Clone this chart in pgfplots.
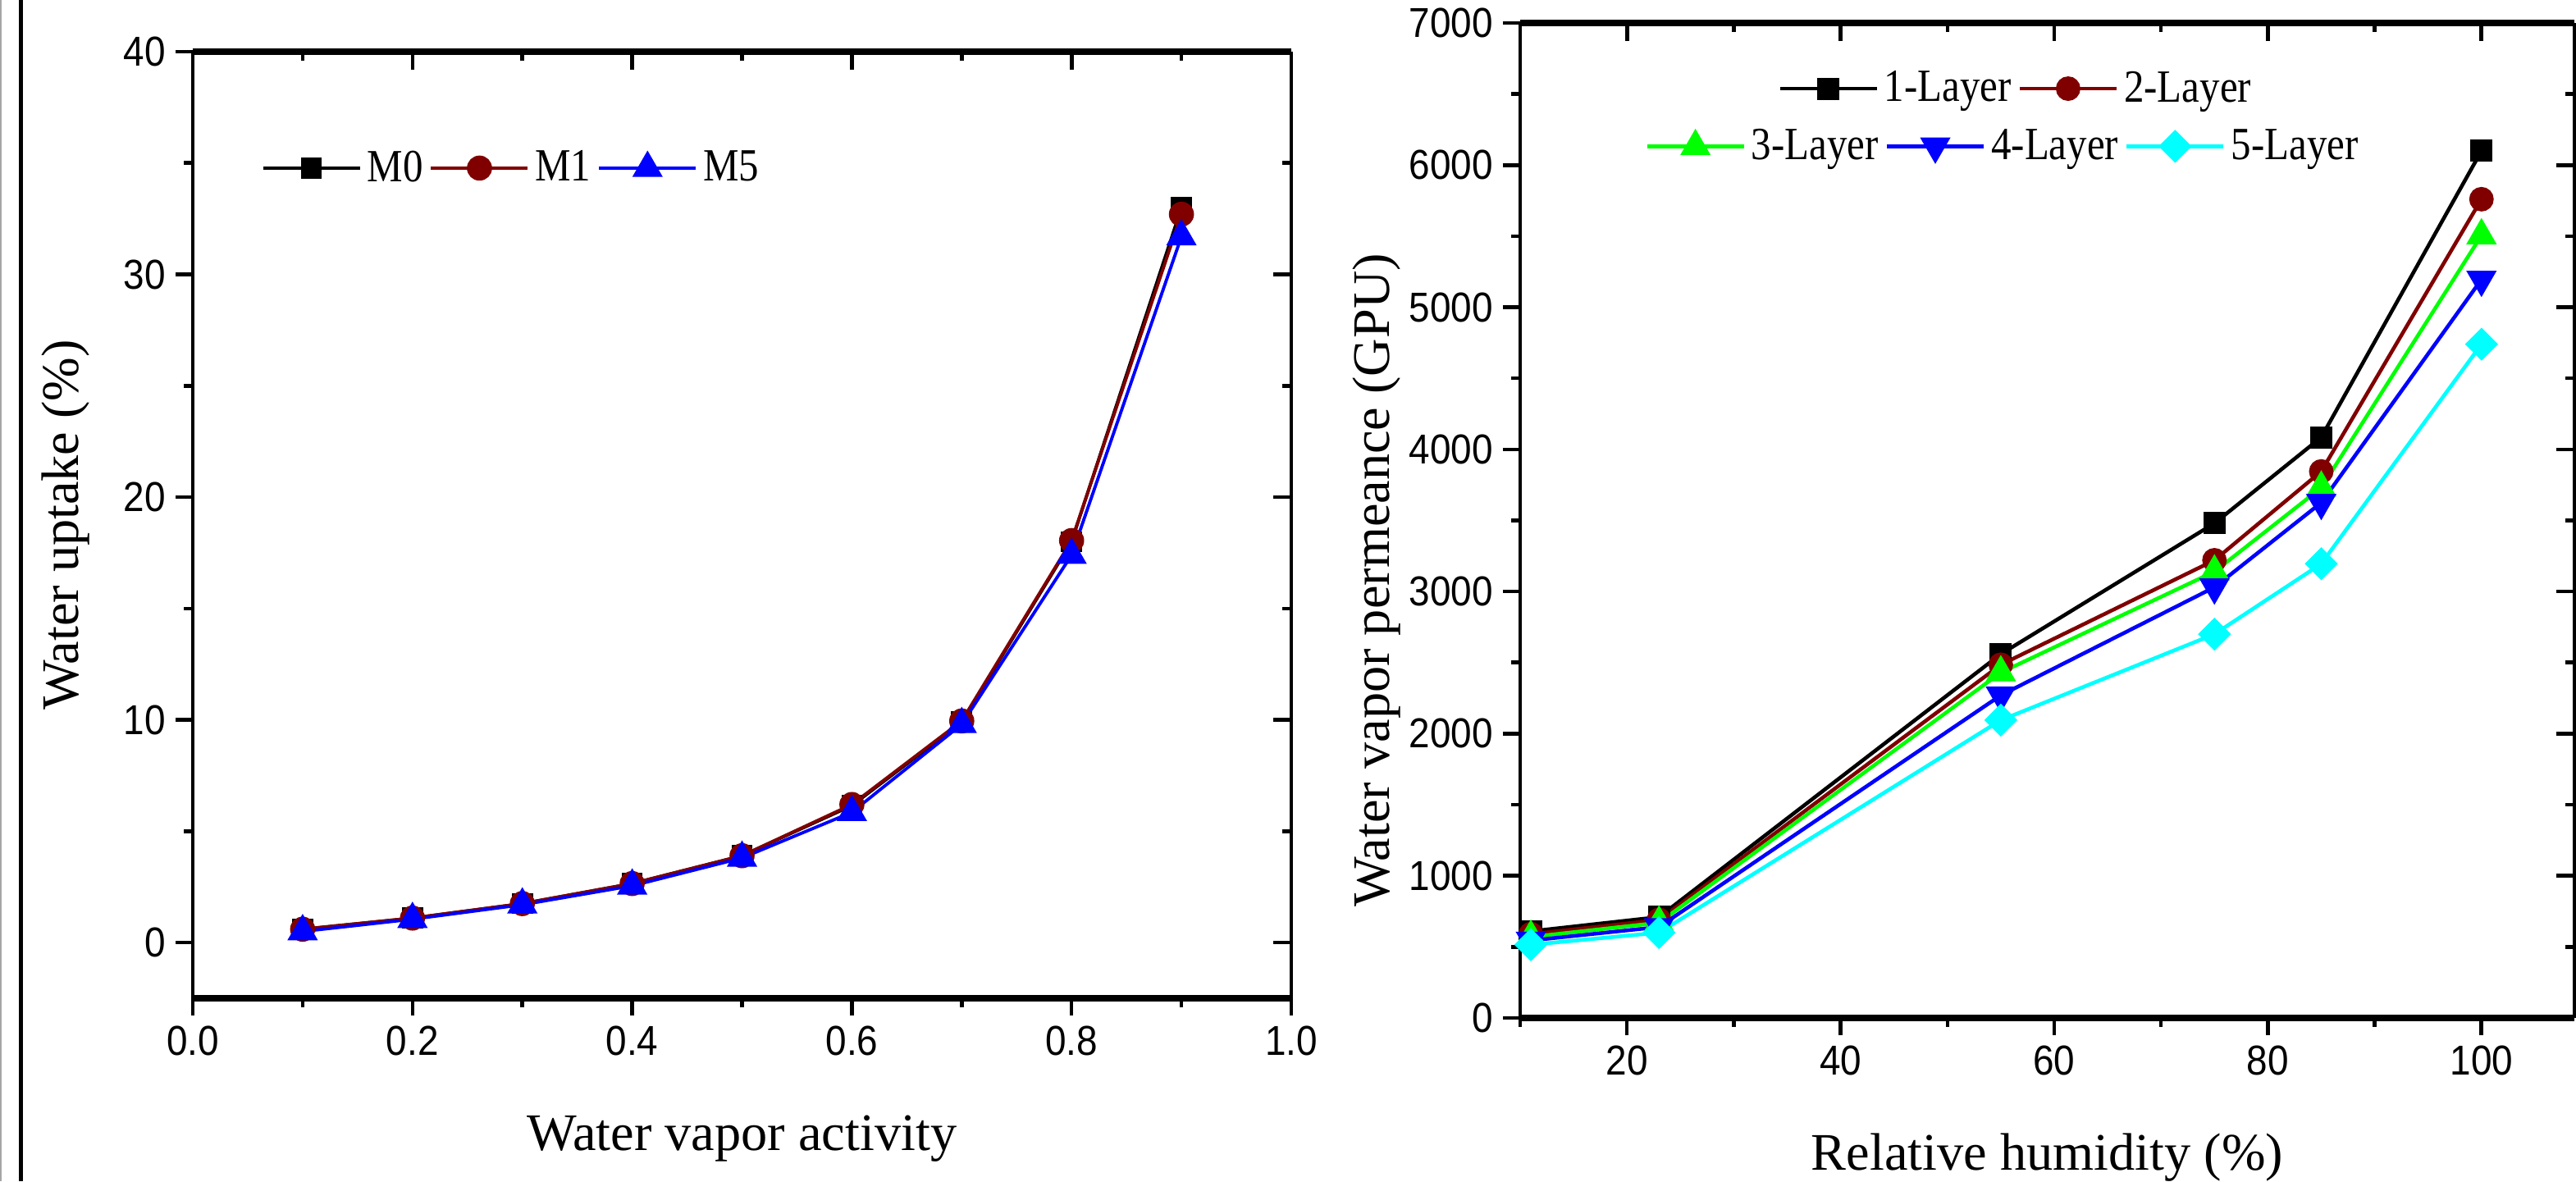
\documentclass[border=0pt]{standalone}
\usepackage{fontspec}
\setmainfont{Liberation Serif}
\newfontfamily\tickfont[FakeStretch=0.9]{Liberation Sans}
\newfontfamily\legfont[FakeStretch=0.87]{Liberation Serif}
\usepackage{pgfplots}
\pgfplotsset{compat=1.18}
\definecolor{wine}{RGB}{128,0,0}
\definecolor{lime}{RGB}{0,255,0}
\definecolor{aqua}{RGB}{0,255,255}

\pgfplotsset{
  panel/.style={
    scale only axis, separate axis lines,
    x axis line style={line width=2pt},
    y axis line style={line width=1.4pt},
    tick style={line width=1.3pt, black},
    major tick length=0.21cm, minor tick length=0.11cm,
    tick align=outside, xtick pos=left, ytick pos=left,
    ticklabel style={font=\tickfont\fontsize{14.5}{14.5}\selectfont},
    /pgf/number format/assume math mode=true,
    label style={font=\fontsize{18.3}{20}\selectfont},
    legend style={draw=none, fill=none, inner sep=0pt,
      font=\legfont\fontsize{16}{18}\selectfont,
      nodes={inner sep=0.07cm},
      /tikz/every even column/.append style={column sep=0.01cm}},
    legend cell align=left,
    legend image code/.code={\draw[mark repeat=2,mark phase=2]
      plot coordinates {(0cm,0cm) (0.59cm,0cm) (1.18cm,0cm)};},
  },
  inner/.style={
    scale only axis, axis line style={draw=none},
    tick style={line width=1.3pt, black},
    major tick length=0.22cm, minor tick length=0.11cm,
    tick align=inside, xtick pos=right, ytick pos=right,
    xticklabels={}, yticklabels={},
    legend style={draw=none, fill=none, inner sep=0pt,
      font=\legfont\fontsize{16}{18}\selectfont,
      nodes={inner sep=0.07cm},
      /tikz/every even column/.append style={column sep=0.01cm}},
    legend cell align=left,
    legend image code/.code={\draw[mark repeat=2,mark phase=2]
      plot coordinates {(0cm,0cm) (0.59cm,0cm) (1.18cm,0cm)};},
  },
}

\begin{document}
\begin{tikzpicture}[x=1cm,y=1cm]

% left panel
\begin{axis}[panel,
  at={(2.35cm,2.23cm)}, anchor=south west,
  width=13.39cm, height=11.54cm,
  xmin=0, xmax=1, ymin=-2.5, ymax=40,
  xtick={0,0.2,...,1.0}, minor x tick num=1,
  ytick={0,10,20,30,40}, minor y tick num=1,
  xticklabel style={/pgf/number format/.cd, fixed, fixed zerofill, precision=1},
  xlabel={Water vapor activity}, ylabel={Water uptake (\%)},
  xlabel style={at={(axis description cs:0.5,-0.161)}, anchor=base},
  ylabel style={at={(axis description cs:-0.116,0.5)}, anchor=center},
  legend style={at={(axis description cs:0.062,0.877)}, anchor=west},
  legend columns=3,
]
\addplot[black, line width=1.1pt, mark=square*, mark size=3.1pt] coordinates {
  (0.1,0.6) (0.2,1.1) (0.3,1.75) (0.4,2.65) (0.5,3.9) (0.6,6.15) (0.7,9.9) (0.8,18.0) (0.9,33.0)};
\addlegendentry{M0}
\addplot[wine, line width=1.1pt, mark=*, mark size=3.8pt] coordinates {
  (0.1,0.6) (0.2,1.1) (0.3,1.75) (0.4,2.65) (0.5,3.9) (0.6,6.2) (0.7,9.95) (0.8,18.05) (0.9,32.7)};
\addlegendentry{M1}
\addplot[blue, line width=1.1pt, mark=triangle*, mark size=5pt] coordinates {
  (0.1,0.5) (0.2,1.05) (0.3,1.7) (0.4,2.55) (0.5,3.8) (0.6,5.85) (0.7,9.8) (0.8,17.4) (0.9,31.7)};
\addlegendentry{M5}
\end{axis}
\begin{axis}[inner,
  at={(2.35cm,2.23cm)}, anchor=south west,
  width=13.39cm, height=11.54cm,
  xmin=0, xmax=1, ymin=-2.5, ymax=40,
  xtick={0,0.2,...,1.0}, minor x tick num=1,
  ytick={0,10,20,30,40}, minor y tick num=1,
]
\end{axis}

% right panel
\begin{axis}[panel,
  at={(18.53cm,1.99cm)}, anchor=south west,
  width=12.85cm, height=12.13cm,
  xmin=10, xmax=108.7, ymin=0, ymax=7000,
  xtick={20,40,60,80,100}, minor xtick={10,30,50,70,90},
  ytick={0,1000,...,7000}, minor y tick num=1,
  yticklabel style={/pgf/number format/1000 sep={}},
  xlabel={Relative humidity (\%)}, ylabel={Water vapor permeance (GPU)},
  xlabel style={at={(axis description cs:0.5,-0.153)}, anchor=base},
  ylabel style={at={(axis description cs:-0.136,0.44)}, anchor=center},
  legend style={at={(axis description cs:0.244,0.934)}, anchor=west},
  legend columns=2,
]
\addplot[black, line width=1.3pt, mark=square*, mark size=3.2pt] coordinates {
  (11,610) (23,710) (55,2560) (75,3480) (85,4085) (100,6100)};
\addplot[wine, line width=1.3pt, mark=*, mark size=3.6pt] coordinates {
  (11,590) (23,690) (55,2485) (75,3220) (85,3845) (100,5760)};
\addplot[lime, line width=1.3pt, mark=triangle*, mark size=4.8pt] coordinates {
  (11,570) (23,670) (55,2430) (75,3140) (85,3730) (100,5505)};
\addplot[blue, line width=1.3pt, mark=triangle*, mark size=4.8pt, mark options={rotate=180}] coordinates {
  (11,545) (23,640) (55,2270) (75,3030) (85,3625) (100,5195)};
\addplot[aqua, line width=1.3pt, mark=square*, mark size=3.4pt, mark options={rotate=45}] coordinates {
  (11,515) (23,600) (55,2095) (75,2700) (85,3195) (100,4740)};
\legend{1-Layer,2-Layer}
\end{axis}
\begin{axis}[inner,
  at={(18.53cm,1.99cm)}, anchor=south west,
  width=12.85cm, height=12.13cm,
  xmin=10, xmax=108.7, ymin=0, ymax=7000,
  xtick={20,40,60,80,100}, minor xtick={10,30,50,70,90},
  ytick={0,1000,...,7000}, minor y tick num=1,
  legend style={at={(axis description cs:0.118,0.876)}, anchor=west},
  legend columns=3,
]
\addlegendimage{lime, line width=1.3pt, mark=triangle*, mark size=4.8pt}
\addlegendentry{3-Layer}
\addlegendimage{blue, line width=1.3pt, mark=triangle*, mark size=4.8pt, mark options={rotate=180}}
\addlegendentry{4-Layer}
\addlegendimage{aqua, line width=1.3pt, mark=square*, mark size=3.4pt, mark options={rotate=45}}
\addlegendentry{5-Layer}
\end{axis}

% page edge lines
\draw[line width=0.05cm] (0.25,0) -- (0.25,14.4);
\draw[gray!70, line width=0.02cm] (0.01,0) -- (0.01,14.4);

\pgfresetboundingbox
\useasboundingbox (0,0) rectangle (31.4,14.4);
\end{tikzpicture}
\end{document}
